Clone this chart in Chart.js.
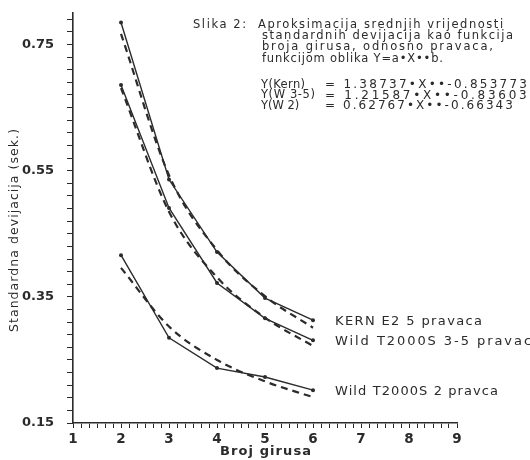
<!DOCTYPE html>
<html>
<head>
<meta charset="utf-8">
<script src="https://cdn.jsdelivr.net/npm/chart.js@4.4.1/dist/chart.umd.min.js"></script>
<style>
  html, body { margin: 0; padding: 0; background: #fff; }
  #wrap { width: 530px; height: 460px; }
</style>
</head>
<body>
<div id="wrap"><canvas id="myChart"></canvas></div>
<script>
// broj girusa (x)
const girusi = [2, 3, 4, 5, 6];

// izmjerene srednje vrijednosti (pune linije)
const kernMjereno = [0.785, 0.536, 0.421, 0.348, 0.313];
const w35Mjereno  = [0.686, 0.491, 0.372, 0.316, 0.281];
const w2Mjereno   = [0.416, 0.285, 0.237, 0.223, 0.202];

// aproksimacija Y=a*X**b (crtkane linije), ocitano sa slike
const kernAprox = [0.767, 0.543, 0.424, 0.351, 0.301];
const w35Aprox  = [0.681, 0.485, 0.381, 0.317, 0.272];
const w2Aprox   = [0.396, 0.303, 0.250, 0.216, 0.191];

const yTickLabels = [0.15, 0.35, 0.55, 0.75];
const xTickLabels = [1, 2, 3, 4, 5, 6, 7, 8, 9];

const seriesNames = ['KERN E2 5 pravaca', 'Wild T2000S 3-5 pravaca', 'Wild T2000S 2 pravca'];
const xTitle = 'Broj girusa';
const yTitle = 'Standardna devijacija (sek.)';

const noteLines = [
  'Aproksimacija srednjih vrijednosti',
  'standardnih devijacija kao funkcija',
  'broja girusa, odnosno pravaca,',
  'funkcijom oblika Y=a\u2022X\u2022\u2022b.'
];
const equations = [
  ['Y(Kern)', '= 1.38737\u2022X\u2022\u2022-0.853773'],
  ['Y(W 3-5)', '= 1.21587\u2022X\u2022\u2022-0.836036'],
  ['Y(W 2)', '= 0.62767\u2022X\u2022\u2022-0.66343']
];

const INK = '#2b2b2b';
const FONT = '"DejaVu Sans", sans-serif';

const pts = arr => arr.map((v, i) => ({ x: girusi[i], y: v }));

// minor ticks: y every 0.02, x every 1/6
const yTicks = [];
for (let k = 0; k <= 32; k++) yTicks.push(Math.round((0.15 + 0.02 * k) * 100) / 100);
const xTicks = [];
for (let k = 0; k <= 48; k++) xTicks.push(1 + k / 6);

function fitText(ctx, text, x, y, w) {
  ctx.letterSpacing = '0px';
  const natural = ctx.measureText(text).width;
  const extra = Math.max((w - natural) / Math.max(text.length - 1, 1), 0);
  ctx.letterSpacing = extra.toFixed(2) + 'px';
  ctx.fillText(text, x, y);
  ctx.letterSpacing = '0px';
}

const notes = {
  id: 'notes',
  afterDraw(chart) {
    const ctx = chart.ctx;
    const xs = chart.scales.x, ys = chart.scales.y;
    ctx.save();
    ctx.fillStyle = INK;
    ctx.textBaseline = 'middle';
    ctx.textAlign = 'left';

    ctx.font = '11.5px ' + FONT;
    fitText(ctx, 'Slika 2:', 193, 25, 53);
    const noteW = [245, 251, 231, 181];
    noteLines.forEach((t, i) => {
      fitText(ctx, t, i === 0 ? 258 : 262, 25 + i * 11.2, noteW[i]);
    });

    ctx.font = '11.5px ' + FONT;
    const leftW = [44, 54, 38];
    const rightW = [202, 212, 188];
    equations.forEach((e, i) => {
      const y = 85 + i * 10.5;
      fitText(ctx, e[0], 261, y, leftW[i]);
      ctx.font = '12px ' + FONT;
      fitText(ctx, e[1], 325, y, rightW[i]);
      ctx.font = '11.5px ' + FONT;
    });

    // oznake serija uz kraj linija
    ctx.font = '13px ' + FONT;
    const last = [kernMjereno, w35Mjereno, w2Mjereno].map(a => a[a.length - 1]);
    const labW = [147, 206, 163];
    seriesNames.forEach((t, i) => {
      const px = xs.getPixelForValue(girusi[girusi.length - 1]) + 22;
      const py = ys.getPixelForValue(last[i]) + 1;
      fitText(ctx, t, px, py, labW[i]);
    });

    // naslovi osi
    ctx.font = 'bold 13px ' + FONT;
    fitText(ctx, xTitle, (xs.left + xs.right) / 2 - 45, 452, 91);

    ctx.save();
    ctx.translate(15, 231);
    ctx.rotate(-Math.PI / 2);
    ctx.font = '12.5px ' + FONT;
    fitText(ctx, yTitle, -101, 0, 203);
    ctx.restore();

    ctx.restore();
  }
};

const measured = (data) => ({
  data: pts(data),
  borderColor: INK,
  borderWidth: 1.4,
  pointRadius: 2,
  pointBackgroundColor: INK,
  pointBorderWidth: 0,
  tension: 0,
  fill: false
});
const fitted = (data) => ({
  data: pts(data),
  borderColor: INK,
  borderWidth: 2.2,
  borderDash: [7, 5],
  pointRadius: 0,
  cubicInterpolationMode: 'monotone',
  fill: false
});

const ctx = document.getElementById('myChart');

new Chart(ctx, {
  type: 'line',
  data: {
    datasets: [
      measured(kernMjereno), fitted(kernAprox),
      measured(w35Mjereno), fitted(w35Aprox),
      measured(w2Mjereno), fitted(w2Aprox)
    ]
  },
  options: {
    responsive: true,
    maintainAspectRatio: false,
    animation: false,
    layout: { padding: { left: 0, top: 13, right: 73, bottom: 0 } },
    plugins: { legend: { display: false }, tooltip: { enabled: false } },
    scales: {
      x: {
        type: 'linear',
        min: 1,
        max: 9,
        afterBuildTicks(s) { s.ticks = xTicks.map(v => ({ value: v })); },
        afterFit(s) { s.height = 37; s.paddingLeft = 0; s.paddingRight = 0; },
        ticks: {
          autoSkip: false,
          maxRotation: 0,
          padding: 3,
          color: INK,
          font: { family: FONT, size: 13.5, weight: 'bold' },
          callback(v) {
            const r = Math.round(v);
            return Math.abs(v - r) < 1e-6 && xTickLabels.includes(r) ? String(r) : '';
          }
        },
        grid: { drawOnChartArea: false, drawTicks: true, tickLength: 5, color: INK, lineWidth: 1 },
        border: { display: true, color: INK, width: 1.6 }
      },
      y: {
        type: 'linear',
        min: 0.15,
        max: 0.80,
        afterBuildTicks(s) { s.ticks = yTicks.map(v => ({ value: v })); },
        afterFit(s) { s.width = 73; s.paddingTop = 0; s.paddingBottom = 0; },
        ticks: {
          autoSkip: false,
          padding: 13,
          color: INK,
          font: { family: FONT, size: 13, weight: 'bold' },
          callback(v) {
            return yTickLabels.some(t => Math.abs(t - v) < 1e-6) ? v.toFixed(2) : '';
          }
        },
        grid: { drawOnChartArea: false, drawTicks: true, tickLength: 6, color: INK, lineWidth: 1 },
        border: { display: true, color: INK, width: 1.6 }
      }
    }
  },
  plugins: [notes]
});
</script>
</body>
</html>
